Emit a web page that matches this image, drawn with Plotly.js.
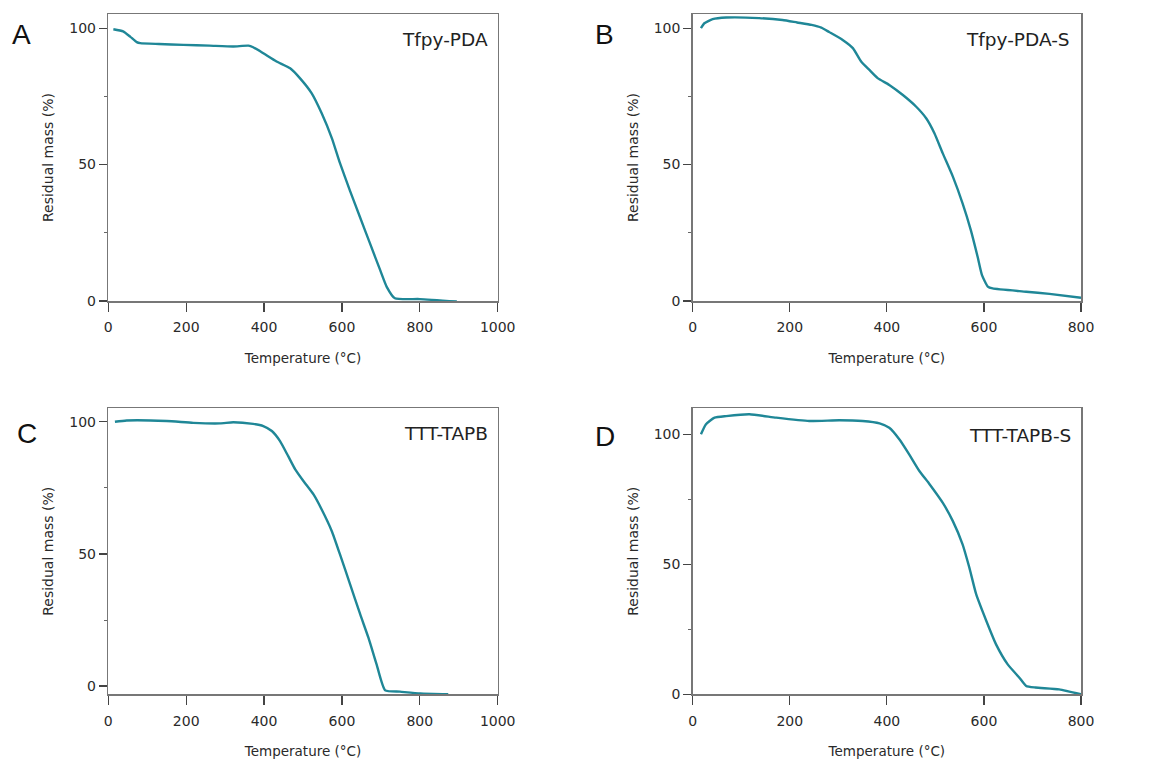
<!DOCTYPE html>
<html>
<head>
<meta charset="utf-8">
<script src="https://cdn.plot.ly/plotly-3.0.1.min.js"></script>
<style>html,body{margin:0;padding:0;background:#fff;}#chart{width:1152px;height:762px;}</style>
</head>
<body>
<div id="chart"></div>
<script>
// Panel A: Tfpy-PDA
const tempA = [13, 38, 56, 73, 82, 130, 193, 260, 321, 360, 372, 398, 432, 467, 492, 522, 548, 574, 595, 621, 646, 672, 698, 715, 736, 800, 895];
const massA = [99.6, 98.8, 96.9, 94.9, 94.5, 94.2, 93.9, 93.6, 93.3, 93.6, 93.0, 90.8, 87.8, 85.3, 81.7, 76.2, 68.8, 59.7, 50.5, 40.3, 30.9, 21.1, 11.4, 5.2, 1.0, 0.7, -0.2];
// Panel B: Tfpy-PDA-S
const tempB = [17, 24, 41, 69, 137, 185, 215, 245, 265, 281, 309, 330, 347, 364, 381, 405, 433, 460, 481, 498, 515, 536, 556, 573, 587, 596, 608, 618, 687, 735, 800];
const massB = [100, 101.8, 103.3, 103.9, 103.7, 103.0, 102.1, 101.2, 100.2, 98.6, 95.7, 92.7, 87.8, 84.7, 81.7, 79.2, 75.5, 71.3, 67.0, 61.5, 54.2, 45.6, 35.8, 26.0, 16.2, 9.5, 5.3, 4.6, 3.4, 2.6, 1.2];
// Panel C: TTT-TAPB
const tempC = [17, 47, 150, 218, 287, 321, 372, 398, 420, 441, 462, 480, 501, 527, 548, 574, 595, 621, 647, 668, 689, 711, 749, 801, 873];
const massC = [100, 100.5, 100.3, 99.6, 99.4, 99.8, 99.2, 98.4, 96.5, 92.7, 87.0, 82.0, 77.6, 72.5, 66.8, 58.6, 49.8, 38.5, 27.1, 18.3, 8.2, -1.6, -2.1, -2.8, -3.1];
// Panel D: TTT-TAPB-S
const tempD = [17, 27, 45, 69, 117, 172, 240, 302, 350, 385, 405, 426, 446, 467, 488, 515, 536, 556, 570, 584, 605, 625, 649, 673, 687, 706, 755, 800];
const massD = [100, 103.8, 106.4, 107.0, 107.7, 106.4, 105.1, 105.4, 105.1, 104.2, 102.5, 98.0, 92.3, 85.9, 80.8, 73.7, 66.6, 57.7, 48.7, 38.5, 28.2, 19.2, 11.5, 6.4, 3.2, 2.6, 1.9, 0.0];

const sampleNames = ["Tfpy-PDA", "Tfpy-PDA-S", "TTT-TAPB", "TTT-TAPB-S"];
const panelLetters = ["A", "B", "C", "D"];
const xTickVals1000 = [0, 200, 400, 600, 800, 1000];
const xTickVals800 = [0, 200, 400, 600, 800];
const yTickVals = [0, 50, 100];
const xTitle = "Temperature (°C)";
const yTitle = "Residual mass (%)";

const lineColor = "#1f8797";
const fontFam = "DejaVu Sans, Verdana, sans-serif";

const series = [[tempA, massA], [tempB, massB], [tempC, massC], [tempD, massD]];
const traces = series.map((s, i) => ({
  x: s[0], y: s[1], type: "scatter", mode: "lines",
  line: {color: lineColor, width: 2.4, shape: "spline", smoothing: 0.5},
  xaxis: i === 0 ? "x" : "x" + (i + 1),
  yaxis: i === 0 ? "y" : "y" + (i + 1),
  showlegend: false, hoverinfo: "skip"
}));

function xAxis(domain, range, ticks, anchor) {
  return {
    domain: domain, range: range, anchor: anchor,
    tickmode: "array", tickvals: ticks,
    ticks: "outside", ticklen: 9, tickwidth: 1.3, tickcolor: "#444",
    ticklabelstandoff: 4,
    showline: true, linecolor: "#777", linewidth: 1.5, mirror: true,
    showgrid: false, zeroline: false,
    tickfont: {family: fontFam, size: 14, color: "#2a2a2a"},
    title: {text: xTitle, font: {family: fontFam, size: 13.5, color: "#2a2a2a"}, standoff: 19}
  };
}
function yAxis(domain, range, anchor) {
  return {
    domain: domain, range: range, anchor: anchor,
    tickmode: "array", tickvals: yTickVals,
    ticks: "outside", ticklen: 8, tickwidth: 1.3, tickcolor: "#444",
    minor: {dtick: 25, tick0: 0, ticks: "outside", ticklen: 3, tickcolor: "#666", tickwidth: 1},
    showline: true, linecolor: "#777", linewidth: 1.5, mirror: true,
    showgrid: false, zeroline: false,
    tickfont: {family: fontFam, size: 14, color: "#2a2a2a"},
    title: {text: yTitle, font: {family: fontFam, size: 14, color: "#2a2a2a"}, standoff: 12}
  };
}

const W = 1152, H = 762;
const xdL = [108.3 / W, 497.7 / W], xdR = [692.7 / W, 1081 / W];
const ydT = [1 - 301 / H, 1 - 14 / H], ydB = [1 - 694.3 / H, 1 - 408.3 / H];

const labelPos = [[490, 39], [1072, 39], [490, 433], [1073, 435]];
const letterPos = [[10, 35], [593, 35], [15, 434], [593, 436]];

const annotations = [];
sampleNames.forEach((n, i) => {
  annotations.push({text: n, xref: "paper", yref: "paper", x: labelPos[i][0] / W, y: 1 - labelPos[i][1] / H,
    xanchor: "right", yanchor: "middle", showarrow: false,
    font: {family: fontFam, size: 18.5, color: "#222"}});
});
panelLetters.forEach((l, i) => {
  annotations.push({text: l, xref: "paper", yref: "paper", x: letterPos[i][0] / W, y: 1 - letterPos[i][1] / H,
    xanchor: "left", yanchor: "middle", showarrow: false,
    font: {family: "Liberation Sans, Arial, sans-serif", size: 28, color: "#111"}});
});

const layout = {
  width: W, height: H,
  margin: {l: 0, r: 0, t: 0, b: 0},
  paper_bgcolor: "#fff", plot_bgcolor: "#fff",
  xaxis: xAxis(xdL, [0, 1000], xTickVals1000, "y"),
  yaxis: yAxis(ydT, [0, 105.2], "x"),
  xaxis2: xAxis(xdR, [0, 800], xTickVals800, "y2"),
  yaxis2: yAxis(ydT, [0, 105.2], "x2"),
  xaxis3: xAxis(xdL, [0, 1000], xTickVals1000, "y3"),
  yaxis3: yAxis(ydB, [-3.1, 105.1], "x3"),
  xaxis4: xAxis(xdR, [0, 800], xTickVals800, "y4"),
  yaxis4: yAxis(ydB, [0, 110], "x4"),
  annotations: annotations
};

Plotly.newPlot("chart", traces, layout, {staticPlot: true, displayModeBar: false});
</script>
</body>
</html>
